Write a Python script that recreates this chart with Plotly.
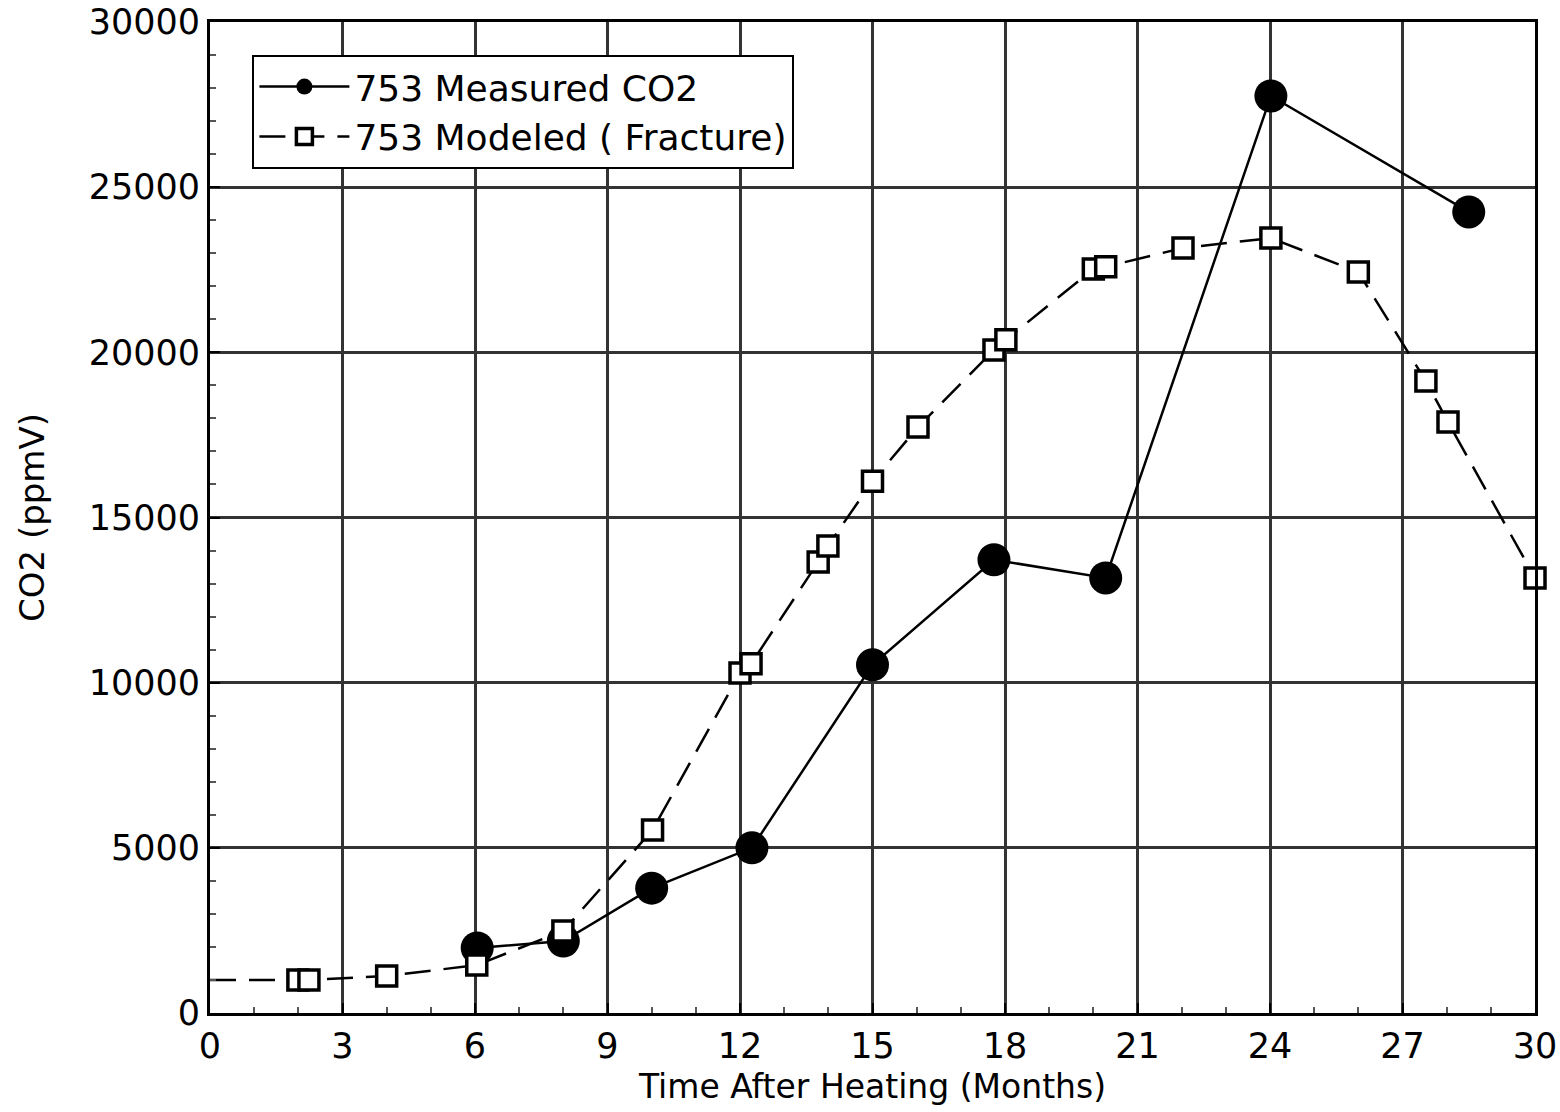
import plotly.graph_objects as go

# Measured CO2 (borehole 753)
meas_x = [6.05, 8.0, 10.0, 12.27, 15.0, 17.75, 20.28, 24.02, 28.5]
meas_y = [1970, 2180, 3780, 5000, 10540, 13720, 13170, 27760, 24250]

# Modeled CO2 (fracture)
mod_x = [0.0, 1.99, 2.24, 4.0, 6.04, 7.99, 10.02, 12.0, 12.25, 13.77, 13.99, 15.0, 16.03,
         17.75, 18.02, 20.0, 20.28, 22.03, 24.02, 26.0, 27.53, 28.03, 30.0]
mod_y = [1000, 1000, 1000, 1120, 1450, 2480, 5540, 10290, 10570, 13650, 14140, 16100, 17740,
         20070, 20380, 22520, 22590, 23160, 23460, 22430, 19130, 17890, 13170]

x_ticks = [0, 3, 6, 9, 12, 15, 18, 21, 24, 27, 30]
y_ticks = [0, 5000, 10000, 15000, 20000, 25000, 30000]

FONT = "DejaVu Sans, Liberation Sans, Arial, sans-serif"

mod_sizes = [0] + [20] * (len(mod_x) - 1)

fig = go.Figure()
fig.add_trace(go.Scatter(
    x=meas_x, y=meas_y, mode="lines+markers", name="753 Measured CO2",
    line=dict(color="black", width=2.5),
    marker=dict(symbol="circle", size=33, color="black",
                line=dict(color="black", width=0)),
    cliponaxis=False,
))
fig.add_trace(go.Scatter(
    x=mod_x, y=mod_y, mode="lines+markers", name="753 Modeled ( Fracture)",
    line=dict(color="black", width=2.5, dash="26px,13px"),
    marker=dict(symbol="square", size=mod_sizes, color="white", opacity=1,
                line=dict(color="#000000", width=3.5)),
    cliponaxis=False,
))

grid = dict(showgrid=True, gridcolor="#333333", gridwidth=3)

fig.update_layout(
    width=1560, height=1112,
    margin=dict(l=210, r=25, t=22, b=99),
    paper_bgcolor="white", plot_bgcolor="white",
    font=dict(family=FONT, color="black", size=35),
    showlegend=True,
    legend=dict(
        x=0.032, y=0.967, xanchor="left", yanchor="top",
        bgcolor="white", bordercolor="black", borderwidth=2,
        font=dict(size=36, family=FONT),
        traceorder="normal", itemwidth=90,
        tracegroupgap=0,
    ),
    xaxis=dict(
        range=[0, 30], tickvals=x_ticks, ticktext=[str(v) for v in x_ticks],
        ticks="inside", ticklen=10, tickwidth=2, tickcolor="black",
        minor=dict(dtick=1, ticks="inside", ticklen=6, tickwidth=2, tickcolor="#555", showgrid=False),
        showline=True, linecolor="black", linewidth=3, mirror=True,
        zeroline=False, automargin=False, ticklabeloverflow="allow",
        title=dict(text="Time After Heating (Months)", font=dict(size=33), standoff=10),
        tickfont=dict(size=35),
        **grid,
    ),
    yaxis=dict(
        range=[0, 30000], tickvals=y_ticks, ticktext=[str(v) for v in y_ticks],
        ticks="inside", ticklen=10, tickwidth=2, tickcolor="black",
        minor=dict(dtick=1000, ticks="inside", ticklen=6, tickwidth=2, tickcolor="#555", showgrid=False),
        showline=True, linecolor="black", linewidth=3, mirror=True,
        zeroline=False, automargin=False, ticklabeloverflow="allow",
        title=dict(text="CO2 (ppmV)", font=dict(size=34), standoff=34),
        tickfont=dict(size=35),
        **grid,
    ),
)

fig.write_html(
    "out.html",
    config={"displayModeBar": False, "staticPlot": True},
    post_script="document.body.style.margin='0px';document.body.style.overflow='hidden';",
)
